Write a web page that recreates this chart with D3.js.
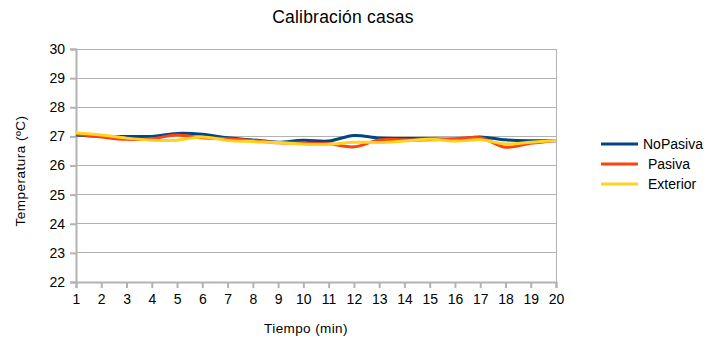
<!DOCTYPE html>
<html>
<head>
<meta charset="utf-8">
<script src="https://cdn.jsdelivr.net/npm/d3@7/dist/d3.min.js"></script>
<style>
  html, body { margin: 0; padding: 0; background: #fff; }
  svg { display: block; font-family: "Liberation Sans", Arial, sans-serif; }
</style>
</head>
<body>
<svg id="chart" width="708" height="340"></svg>
<script>
// Minutes on the x axis
const minutes = [1,2,3,4,5,6,7,8,9,10,11,12,13,14,15,16,17,18,19,20];
const yTicks = [22,23,24,25,26,27,28,29,30];

// Temperatures (ºC) per house
const noPasiva = [27.05,27.0,27.0,27.0,27.1,27.07,26.95,26.88,26.8,26.87,26.84,27.03,26.94,26.93,26.92,26.9,26.98,26.88,26.85,26.85];
const pasiva   = [27.08,26.98,26.9,26.92,27.05,26.95,26.92,26.86,26.78,26.77,26.75,26.64,26.88,26.88,26.88,26.92,26.95,26.63,26.76,26.86];
const exterior = [27.12,27.05,26.94,26.87,26.87,26.98,26.86,26.82,26.79,26.73,26.73,26.8,26.79,26.84,26.9,26.84,26.88,26.74,26.8,26.86];

const seriesNames = ["NoPasiva", "Pasiva", "Exterior"];
const seriesColors = ["#004586", "#ff420e", "#ffd320"];
const seriesData = [noPasiva, pasiva, exterior];

const svg = d3.select("#chart");
const plotLeft = 76, plotRight = 556, plotTop = 49, plotBottom = 282;

const x = d3.scaleLinear().domain([1, 20]).range([plotLeft, plotRight]);
const y = d3.scaleLinear().domain([22, 30]).range([plotBottom, plotTop]);

const grid = "#b3b3b3";

// Horizontal gridlines
svg.append("g").selectAll("line").data(yTicks).join("line")
  .attr("x1", plotLeft).attr("x2", plotRight)
  .attr("y1", d => y(d)).attr("y2", d => y(d))
  .attr("stroke", grid).attr("stroke-width", 1)
  .attr("shape-rendering", "crispEdges");

// Right border of the plot area
svg.append("line")
  .attr("x1", plotRight).attr("x2", plotRight).attr("y1", plotTop).attr("y2", plotBottom)
  .attr("stroke", grid).attr("shape-rendering", "crispEdges");

// Y axis
const yAxis = svg.append("g").attr("transform", `translate(${plotLeft},0)`)
  .call(d3.axisLeft(y).tickValues(yTicks).tickSize(6).tickPadding(5).tickFormat(d3.format("d")));
yAxis.select(".domain").attr("stroke", grid).attr("stroke-width", 2);
yAxis.selectAll(".tick line").attr("stroke", grid).attr("stroke-width", 2);
yAxis.selectAll(".tick text").attr("font-size", 14).attr("fill", "#000")
  .attr("font-family", "Liberation Sans, Arial, sans-serif");

// X axis
const xAxis = svg.append("g").attr("transform", `translate(0,${plotBottom})`)
  .call(d3.axisBottom(x).tickValues(minutes).tickSize(6).tickPadding(6).tickFormat(d3.format("d")));
xAxis.select(".domain").attr("stroke", grid).attr("stroke-width", 2);
xAxis.selectAll(".tick line").attr("stroke", grid).attr("stroke-width", 2);
xAxis.selectAll(".tick text").attr("font-size", 14).attr("fill", "#000")
  .attr("font-family", "Liberation Sans, Arial, sans-serif");

// Series lines
const line = d3.line()
  .x((d, i) => x(minutes[i]))
  .y(d => y(d))
  .curve(d3.curveCatmullRom.alpha(0.5));

seriesData.forEach((vals, k) => {
  svg.append("path")
    .datum(vals)
    .attr("d", line)
    .attr("fill", "none")
    .attr("stroke", seriesColors[k])
    .attr("stroke-width", 3)
    .attr("stroke-linejoin", "round");
});

// Title
svg.append("text")
  .attr("x", 343).attr("y", 23)
  .attr("text-anchor", "middle")
  .attr("font-size", 17.5)
  .attr("letter-spacing", 0.2)
  .text("Calibración casas");

// Axis titles
svg.append("text")
  .attr("transform", `translate(25,171) rotate(-90)`)
  .attr("text-anchor", "middle")
  .attr("font-size", 13.5)
  .attr("letter-spacing", 0.5)
  .text("Temperatura (ºC)");

svg.append("text")
  .attr("x", 306).attr("y", 333)
  .attr("text-anchor", "middle")
  .attr("font-size", 13.5)
  .attr("letter-spacing", 0.4)
  .text("Tiempo (min)");

// Legend
const legendX = [643, 648, 648];
const legend = svg.append("g");
seriesNames.forEach((name, k) => {
  const ly = 144 + k * 20;
  legend.append("line")
    .attr("x1", 601).attr("x2", 638)
    .attr("y1", ly).attr("y2", ly)
    .attr("stroke", seriesColors[k]).attr("stroke-width", 3);
  legend.append("text")
    .attr("x", legendX[k]).attr("y", ly + 5)
    .attr("font-size", 14)
    .text(name);
});
</script>
</body>
</html>
